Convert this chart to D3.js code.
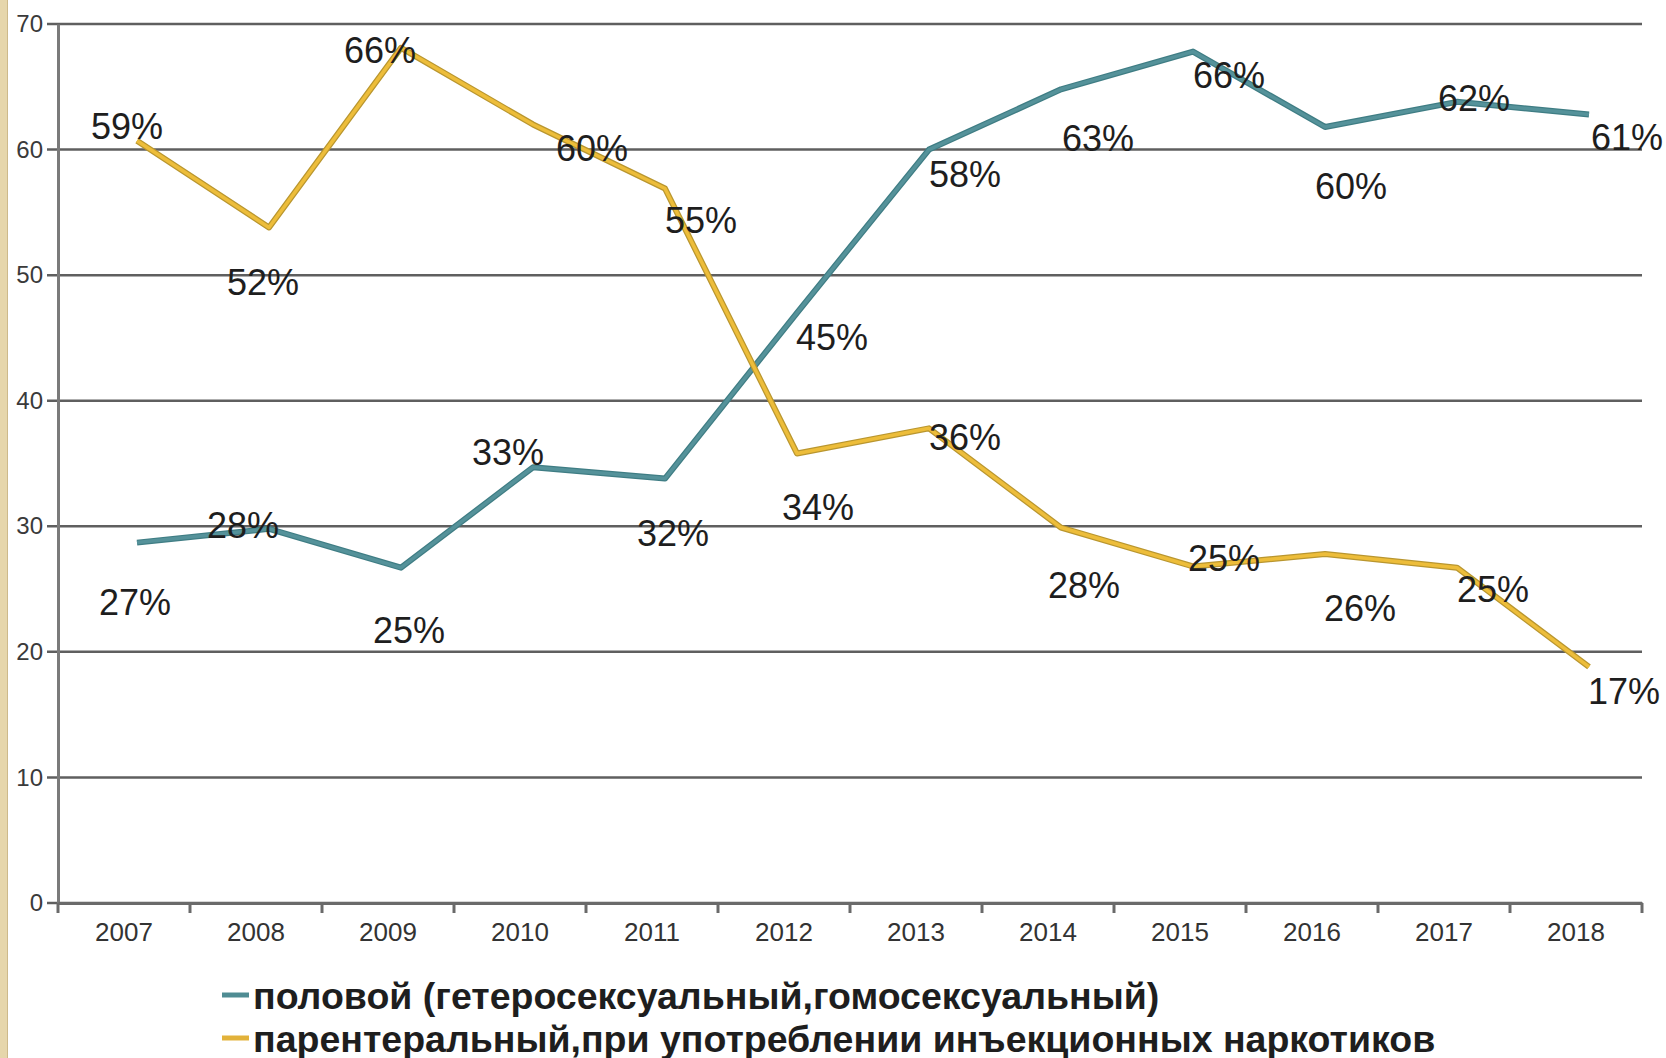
<!DOCTYPE html>
<html>
<head>
<meta charset="utf-8">
<script src="https://cdn.jsdelivr.net/npm/d3@7"></script>
<style>
  body { margin: 0; background: #fff; }
  svg { display: block; }
  text { font-family: "Liberation Sans", Arial, sans-serif; }
</style>
</head>
<body>
<svg id="chart" width="1666" height="1058"></svg>
<script>
// categories and tick labels
var years = ["2007", "2008", "2009", "2010", "2011", "2012", "2013", "2014", "2015", "2016", "2017", "2018"];
var yTicks = [0, 10, 20, 30, 40, 50, 60, 70];

// series
var sexualValues = [28.7, 29.8, 26.7, 34.7, 33.8, 47.0, 60.0, 64.8, 67.8, 61.8, 63.8, 62.8];
var sexualLabels = ["27%", "28%", "25%", "33%", "32%", "45%", "58%", "63%", "66%", "60%", "62%", "61%"];
var injectValues = [60.7, 53.8, 68.1, 62.0, 56.9, 35.8, 37.8, 29.9, 26.8, 27.8, 26.7, 18.8];
var injectLabels = ["59%", "52%", "66%", "60%", "55%", "34%", "36%", "28%", "25%", "26%", "25%", "17%"];

var seriesNames = [
    "половой (гетеросексуальный,гомосексуальный)",
    "парентеральный,при употреблении инъекционных наркотиков"
];

// where each value label sits relative to its point (px)
var sexualLabelOffsets = [[-2, 59], [-26, -4], [8, 62], [-25, -15], [8, 54], [35, 24], [36, 24], [37, 49], [36, 23], [26, 59], [17, -4], [38, 23]];
var injectLabelOffsets = [[-10, -15], [-6, 55], [-21, 2], [59, 24], [36, 32], [21, 54], [36, 9], [23, 57], [31, -8], [35, 54], [36, 21], [35, 24]];

(function () {
    var svg = d3.select("#chart");
    var plotLeft = 58, plotRight = 1642, plotTop = 24, plotBottom = 903;

    // decorative strip on the left edge
    svg.append("rect").attr("x", 0).attr("y", 0).attr("width", 8).attr("height", 1058).attr("fill", "#e6d6ab");
    svg.append("line").attr("x1", 7.5).attr("x2", 7.5).attr("y1", 0).attr("y2", 1058).attr("stroke", "#cdb98a").attr("stroke-width", 1);

    var x = d3.scaleBand().domain(years).range([plotLeft, plotRight]);
    var y = d3.scaleLinear().domain([0, 70]).range([plotBottom, plotTop]);
    var pointShift = 13;
    function px(i) { return x(years[i]) + x.bandwidth() / 2 + pointShift; }

    // grid
    var grid = svg.append("g").attr("class", "grid");
    grid.selectAll("line").data(yTicks).enter().append("line")
        .attr("x1", plotLeft - 11).attr("x2", plotRight)
        .attr("y1", function (d) { return y(d); }).attr("y2", function (d) { return y(d); })
        .attr("stroke", "#5f5f5f").attr("stroke-width", 2.5);

    // y axis
    var yAxis = svg.append("g").attr("transform", "translate(" + plotLeft + ",0)")
        .call(d3.axisLeft(y).tickValues(yTicks).tickSize(0).tickPadding(15));
    yAxis.select(".domain").attr("stroke", "#7a7a7a").attr("stroke-width", 3);
    yAxis.selectAll("text").attr("font-size", 24).attr("fill", "#3a3a3a")
        .attr("font-family", "Liberation Sans, Arial, sans-serif");

    // x axis with ticks on the category boundaries
    var xAxis = svg.append("g").attr("transform", "translate(0," + plotBottom + ")")
        .call(d3.axisBottom(x).tickSize(0).tickPadding(20));
    xAxis.select(".domain").attr("stroke", "#6a6a6a").attr("stroke-width", 3);
    xAxis.selectAll("text").attr("font-size", 26).attr("fill", "#333")
        .attr("font-family", "Liberation Sans, Arial, sans-serif");
    var bounds = years.map(function (d) { return x(d); }).concat([plotRight]);
    xAxis.selectAll(".bound").data(bounds).enter().append("line")
        .attr("class", "bound")
        .attr("x1", function (d) { return d; }).attr("x2", function (d) { return d; })
        .attr("y1", 0).attr("y2", 10)
        .attr("stroke", "#6a6a6a").attr("stroke-width", 3);

    var line = d3.line()
        .x(function (d, i) { return px(i); })
        .y(function (d) { return y(d); });

    // teal line
    svg.append("path").datum(sexualValues).attr("d", line)
        .attr("fill", "none").attr("stroke", "#3f7d84").attr("stroke-width", 6).attr("stroke-linejoin", "round");
    svg.append("path").datum(sexualValues).attr("d", line)
        .attr("fill", "none").attr("stroke", "#55929a").attr("stroke-width", 3.5).attr("stroke-linejoin", "round");

    // gold line, darker rim
    svg.append("path").datum(injectValues).attr("d", line)
        .attr("fill", "none").attr("stroke", "#b9962f").attr("stroke-width", 6).attr("stroke-linejoin", "round");
    svg.append("path").datum(injectValues).attr("d", line)
        .attr("fill", "none").attr("stroke", "#edbd3a").attr("stroke-width", 3.5).attr("stroke-linejoin", "round");

    function drawLabels(values, labels, offsets) {
        svg.append("g").selectAll("text").data(values).enter().append("text")
            .attr("x", function (d, i) { return px(i) + offsets[i][0]; })
            .attr("y", function (d, i) { return y(d) + offsets[i][1]; })
            .attr("dy", "0.36em")
            .attr("text-anchor", "middle")
            .attr("font-size", 36)
            .attr("fill", "#1e1e1e")
            .text(function (d, i) { return labels[i]; });
    }
    drawLabels(sexualValues, sexualLabels, sexualLabelOffsets);
    drawLabels(injectValues, injectLabels, injectLabelOffsets);

    // legend
    var legendColors = ["#4f8c93", "#e2b23a"];
    var legend = svg.append("g").attr("transform", "translate(222,0)");
    seriesNames.forEach(function (name, i) {
        var baseY = 1009 + i * 43;
        legend.append("line").attr("x1", 0).attr("x2", 27)
            .attr("y1", baseY - 14).attr("y2", baseY - 14)
            .attr("stroke", legendColors[i]).attr("stroke-width", 5);
        legend.append("text").attr("x", 31).attr("y", baseY)
            .attr("font-size", 37.5).attr("font-weight", "bold").attr("fill", "#1e1e1e")
            .text(name);
    });
})();
</script>
</body>
</html>
